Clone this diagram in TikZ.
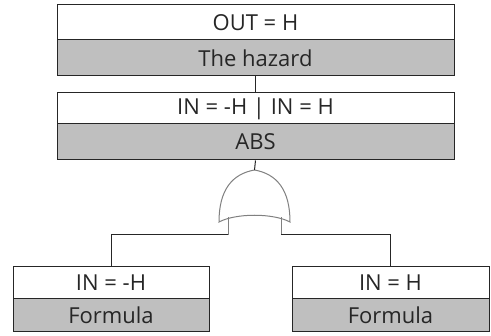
\documentclass[tikz,border=0pt]{standalone}
\usepackage{fontspec}
\setmainfont{Open Sans}
\begin{document}
\begin{tikzpicture}[x=1pt,y=-1pt,
  lbl/.style={draw=black!85, line width=1pt, fill=white, inner sep=0pt, text=black!85, font=\fontsize{22}{24}\selectfont},
  gry/.style={lbl, fill=black!25},
  wire/.style={draw=black!85, line width=1pt},
  gate/.style={draw=black!50, line width=1pt}]
\useasboundingbox (0,0) rectangle (491,336);
% top box
\node[lbl, minimum width=397pt, minimum height=35pt] (out) at (255.5,22.5) {OUT = H};
\node[gry, minimum width=397pt, minimum height=36pt] (haz) at (255.5,58) {The hazard};
% second box
\node[lbl, minimum width=397pt, minimum height=31pt] (in) at (255.5,108.5) {IN = -H | IN = H};
\node[gry, minimum width=397pt, minimum height=36pt] (abs) at (255.5,142) {ABS};
% bottom boxes
\node[lbl, minimum width=196pt, minimum height=32pt] (inl) at (111,283) {IN = -H};
\node[gry, minimum width=196pt, minimum height=33pt] (fl) at (111,315.5) {Formula};
\node[lbl, minimum width=197pt, minimum height=32pt] (inr) at (390.5,283) {IN = H};
\node[gry, minimum width=197pt, minimum height=33pt] (fr) at (390.5,315.5) {Formula};
% gate
\coordinate (apex) at (254.5,170);
\coordinate (gl) at (228,217.5);
\coordinate (gr) at (281,217.5);
\coordinate (gle) at (228,235);
\coordinate (gre) at (281,235);
\draw[gate] (apex) .. controls (232,174) and (219,190) .. (219,222)
  .. controls (236,213) and (273,213) .. (290,222)
  .. controls (290,190) and (277,174) .. (apex);
\draw[gate] (gl) -- (gle);
\draw[gate] (gr) -- (gre);
% connectors
\draw[wire] (haz.south) -- (in.north);
\draw[wire] (abs.south) -- (apex);
\draw[wire] (gle) -| (inl.north);
\draw[wire] (gre) -| (inr.north);
\end{tikzpicture}
\end{document}
